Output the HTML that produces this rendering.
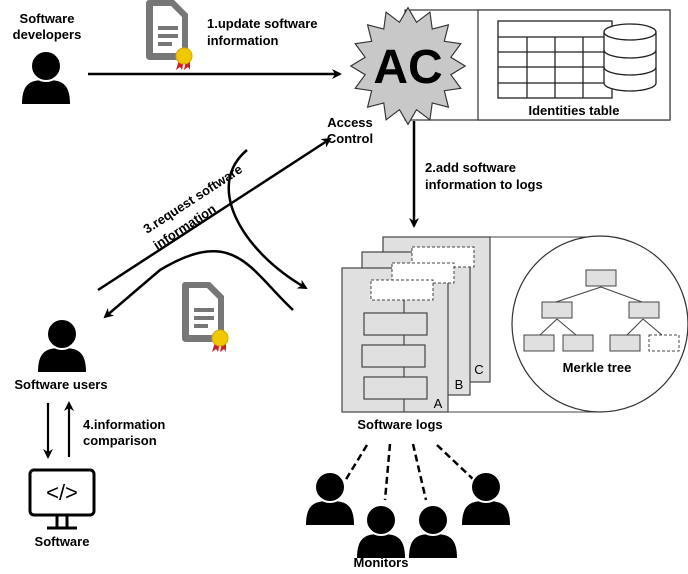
<!DOCTYPE html>
<html><head><meta charset="utf-8"><style>
body{margin:0;background:#fff}
svg{display:block;font-family:"Liberation Sans",sans-serif}
</style></head><body>
<svg width="688" height="574" viewBox="0 0 688 574" xmlns="http://www.w3.org/2000/svg">
<defs>
<marker id="ah" markerWidth="10" markerHeight="10" refX="8" refY="5" orient="auto" markerUnits="userSpaceOnUse">
<path d="M0,0 L10,5 L0,10 L3,5z" fill="#000"/></marker>
<g id="person">
<path d="M-24,22 C-24,0 -14,-2 0,-2 C14,-2 24,0 24,22 Z" fill="#000"/>
<circle cx="0" cy="-16" r="15" fill="#000" stroke="#fff" stroke-width="2"/>
</g>
<g id="doc">
<path d="M3,0 H28 L42,14 V56 Q42,60 38,60 H4 Q0,60 0,56 V4 Q0,0 3,0Z" fill="#777"/>
<path d="M7,6 H25 L36,17 V53 H7Z" fill="#fff"/>
<rect x="12" y="26" width="20" height="4" fill="#777"/><rect x="12" y="34" width="20" height="4" fill="#777"/><rect x="12" y="42" width="14" height="4" fill="#777"/>
<path d="M33,60 L30,70 L34,67 L36,70 L38,60Z M40,60 L38,70 L42,67 L44,70 L44,60Z" fill="#c22"/>
<circle cx="38" cy="56" r="8" fill="#f0c800" stroke="#d9a400" stroke-width="1"/>
</g>
</defs>

<text x="47" y="23" font-size="13" font-weight="bold" text-anchor="middle">Software</text>
<text x="47" y="39" font-size="13" font-weight="bold" text-anchor="middle">developers</text>
<use href="#person" x="46" y="82"/>
<use href="#doc" x="146" y="0"/>
<text x="207" y="28" font-size="13" font-weight="bold">1.update software</text>
<text x="207" y="45" font-size="13" font-weight="bold">information</text>
<line x1="88" y1="74" x2="340" y2="74" stroke="#000" stroke-width="2.5" marker-end="url(#ah)"/>

<rect x="405" y="10" width="265" height="110" fill="#fff" stroke="#333" stroke-width="1.2"/>
<rect x="478" y="10" width="192" height="110" fill="#fff" stroke="#333" stroke-width="1.2"/>
<g stroke="#222" stroke-width="1.3" fill="none">
<rect x="498" y="21" width="114" height="77"/>
<line x1="498" y1="37" x2="612" y2="37"/><line x1="498" y1="52" x2="612" y2="52"/><line x1="498" y1="67" x2="612" y2="67"/><line x1="498" y1="83" x2="612" y2="83"/>
<line x1="527" y1="37" x2="527" y2="98"/><line x1="555" y1="37" x2="555" y2="98"/><line x1="583" y1="37" x2="583" y2="98"/>
</g>
<g stroke="#222" stroke-width="1.3" fill="#fff">
<path d="M604,32 V83 A26,8 0 0 0 656,83 V32"/>
<ellipse cx="630" cy="32" rx="26" ry="8"/>
<path d="M604,50 A26,8 0 0 0 656,50" fill="none"/>
<path d="M604,67 A26,8 0 0 0 656,67" fill="none"/>
</g>
<text x="574" y="115" font-size="13" font-weight="bold" text-anchor="middle">Identities table</text>
<polygon transform="translate(408,66) scale(1.04,1.06)" fill="#c8c8c8" stroke="#333" stroke-width="1.1" points="55,0 41.2,8.2 50.8,21.1 34.9,23.3 38.9,38.9 23.3,34.9 21.1,50.8 8.2,41.2 0,55 -8.2,41.2 -21.1,50.8 -23.3,34.9 -38.9,38.9 -34.9,23.3 -50.8,21.1 -41.2,8.2 -55,0 -41.2,-8.2 -50.8,-21.1 -34.9,-23.3 -38.9,-38.9 -23.3,-34.9 -21.1,-50.8 -8.2,-41.2 0,-55 8.2,-41.2 21.1,-50.8 23.3,-34.9 38.9,-38.9 34.9,-23.3 50.8,-21.1 41.2,-8.2"/>
<text x="408" y="83" font-size="48" font-weight="bold" text-anchor="middle">AC</text>
<text x="350" y="127" font-size="13" font-weight="bold" text-anchor="middle">Access</text>
<text x="350" y="143" font-size="13" font-weight="bold" text-anchor="middle">Control</text>

<line x1="414" y1="121" x2="414" y2="226" stroke="#000" stroke-width="2.5" marker-end="url(#ah)"/>
<text x="425" y="172" font-size="13" font-weight="bold">2.add software</text>
<text x="425" y="189" font-size="13" font-weight="bold">information to logs</text>

<line x1="98" y1="290" x2="330" y2="139" stroke="#000" stroke-width="2.5" marker-end="url(#ah)"/>
<text transform="translate(147,234) rotate(-33)" font-size="13" font-weight="bold">3.request software</text>
<text transform="translate(157,250) rotate(-33)" font-size="13" font-weight="bold">information</text>
<path d="M247,150 C205,185 240,250 306,288" fill="none" stroke="#000" stroke-width="2.5" marker-end="url(#ah)"/>
<path d="M293,310 C250,270 235,225 160,270 L105,317" fill="none" stroke="#000" stroke-width="2.5" marker-end="url(#ah)"/>
<use href="#doc" x="182" y="282"/>

<use href="#person" x="62" y="350"/>
<text x="61" y="389" font-size="13" font-weight="bold" text-anchor="middle">Software users</text>
<line x1="48" y1="403" x2="48" y2="457" stroke="#000" stroke-width="2.2" marker-end="url(#ah)"/>
<line x1="69" y1="457" x2="69" y2="403" stroke="#000" stroke-width="2.2" marker-end="url(#ah)"/>
<text x="83" y="429" font-size="13" font-weight="bold">4.information</text>
<text x="83" y="445" font-size="13" font-weight="bold">comparison</text>
<rect x="30" y="470" width="64" height="45" rx="4" fill="#fff" stroke="#000" stroke-width="3"/>
<text x="62" y="500" font-size="22" text-anchor="middle">&lt;/&gt;</text>
<line x1="57" y1="515" x2="57" y2="527" stroke="#000" stroke-width="3"/><line x1="67" y1="515" x2="67" y2="527" stroke="#000" stroke-width="3"/>
<line x1="47" y1="528" x2="77" y2="528" stroke="#000" stroke-width="3"/>
<text x="62" y="546" font-size="13" font-weight="bold" text-anchor="middle">Software</text>

<line x1="490" y1="237" x2="600" y2="237" stroke="#444" stroke-width="1"/>
<line x1="448" y1="412" x2="600" y2="412" stroke="#444" stroke-width="1"/>
<circle cx="600" cy="324" r="88" fill="#fff" stroke="#333" stroke-width="1.2"/>
<g fill="#e0e0e0" stroke="#444" stroke-width="1.2">
<rect x="383" y="237" width="107" height="145"/>
<rect x="362" y="252" width="108" height="143"/>
<rect x="342" y="268" width="106" height="144"/>
</g>
<g fill="#fff" stroke="#444" stroke-width="1" stroke-dasharray="3,2">
<rect x="412" y="247" width="62" height="20"/>
<rect x="392" y="263" width="62" height="20"/>
<rect x="371" y="280" width="62" height="20"/>
</g>
<line x1="404" y1="300" x2="404" y2="412" stroke="#444" stroke-width="1.2"/>
<g fill="#e0e0e0" stroke="#444" stroke-width="1.2">
<rect x="364" y="313" width="63" height="22"/>
<rect x="362" y="345" width="63" height="22"/>
<rect x="364" y="377" width="63" height="22"/>
</g>
<text x="438" y="408" font-size="13" text-anchor="middle">A</text>
<text x="459" y="389" font-size="13" text-anchor="middle">B</text>
<text x="479" y="374" font-size="13" text-anchor="middle">C</text>
<text x="400" y="429" font-size="13" font-weight="bold" text-anchor="middle">Software logs</text>
<g stroke="#444" stroke-width="1">
<line x1="601" y1="287" x2="556" y2="302"/><line x1="601" y1="287" x2="642" y2="302"/>
<line x1="557" y1="319" x2="540" y2="335"/><line x1="557" y1="319" x2="576" y2="335"/>
<line x1="643" y1="319" x2="627" y2="335"/><line x1="643" y1="319" x2="662" y2="335"/>
</g>
<g fill="#e0e0e0" stroke="#444" stroke-width="1">
<rect x="586" y="270" width="30" height="16"/>
<rect x="542" y="302" width="30" height="16"/>
<rect x="629" y="302" width="30" height="16"/>
<rect x="524" y="335" width="30" height="16"/>
<rect x="563" y="335" width="30" height="16"/>
<rect x="610" y="335" width="30" height="16"/>
</g>
<rect x="649" y="335" width="30" height="16" fill="#fff" stroke="#444" stroke-dasharray="3,2"/>
<text x="597" y="372" font-size="13" font-weight="bold" text-anchor="middle">Merkle tree</text>

<g stroke="#000" stroke-width="2.5" stroke-dasharray="7,4">
<line x1="367" y1="445" x2="345" y2="481"/>
<line x1="390" y1="444" x2="385" y2="500"/>
<line x1="413" y1="444" x2="426" y2="500"/>
<line x1="437" y1="445" x2="475" y2="481"/>
</g>
<use href="#person" x="330" y="503"/>
<use href="#person" x="381" y="536"/>
<use href="#person" x="433" y="536"/>
<use href="#person" x="486" y="503"/>
<text x="381" y="567" font-size="13" font-weight="bold" text-anchor="middle">Monitors</text>
</svg>
</body></html>
